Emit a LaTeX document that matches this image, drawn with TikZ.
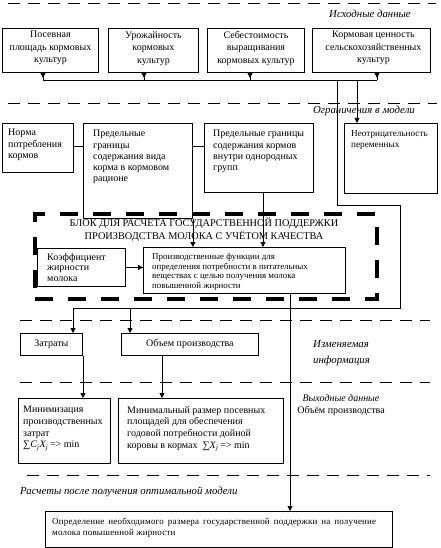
\documentclass[tikz,border=0pt]{standalone}
\usepackage{fontspec}
\setmainfont{Liberation Serif}
\usetikzlibrary{arrows.meta}
\begin{document}
\begin{tikzpicture}[x=1pt,y=-1pt,
  box/.style={draw,line width=0.9pt,inner sep=0pt,anchor=north west},
  txt/.style={inner sep=0pt,anchor=north west,font=\fontsize{10}{11.3}\selectfont,align=left},
  ctxt/.style={inner sep=0pt,anchor=north,font=\fontsize{10}{12.5}\selectfont,align=center},
  lab/.style={inner sep=0pt,font=\fontsize{10.8}{16}\selectfont\itshape},
  sep/.style={line width=0.7pt,dash pattern=on 12pt off 8pt},
  blockframe/.style={draw,line width=4pt,dash pattern=on 18pt off 15pt,inner sep=0pt,anchor=north west},
  link/.style={line width=0.8pt},
  arr/.style={link,-{Triangle[length=5pt,width=5pt]}},
]
\useasboundingbox (0,0) rectangle (441,548);

% separators
\draw[sep] (8,3) -- (436,3);
\draw[sep] (8,103) -- (437,103);
\draw[sep] (20,320) -- (430,320);
\draw[sep] (20,382) -- (430,382);
\draw[sep] (27,475) -- (430,475);

% section labels
\node[lab] (l1) at (370,14) {Исходные данные};
\node[lab] (l2) at (364,111) {Ограничения в модели};
\node[lab,anchor=west,align=left] (l3) at (313,353) {Изменяемая\\информация};
\node[inner sep=0pt,align=center,font=\fontsize{10}{12}\selectfont] (l4) at (341,405) {\textit{Выходные данные}\\Объём производства};
\node[lab,anchor=west] (l5) at (20,492) {Расчеты после получения оптимальной модели};

% row 1
\node[box,minimum width=96,minimum height=44] (b1) at (2,28) {};
\node[box,minimum width=90,minimum height=44] (b2) at (108,28) {};
\node[box,minimum width=97,minimum height=44] (b3) at (207,28) {};
\node[box,minimum width=118,minimum height=44] (b4) at (312,28) {};
\node[ctxt] (t1) at ([yshift=-3pt]b1.north) {Посевная\\площадь кормовых\\культур};
\node[ctxt] (t2) at ([yshift=-3pt]b2.north) {Урожайность\\кормовых\\культур};
\node[ctxt] (t3) at ([yshift=-3pt]b3.north) {Себестоимость\\выращивания\\кормовых культур};
\node[ctxt] (t4) at ([yshift=-3pt,xshift=2pt]b4.north) {Кормовая ценность\\сельскохозяйственных\\культур};

% row 2
\node[box,minimum width=71,minimum height=49] (b5) at (2,123) {};
\node[box,minimum width=109,minimum height=95] (b6) at (83,123) {};
\node[box,minimum width=109,minimum height=69] (b7) at (204,123) {};
\node[box,minimum width=93,minimum height=70] (b8) at (344,123) {};
\node[txt] (t5) at ([xshift=6pt,yshift=-6pt]b5.north west) {Норма\\потребления\\кормов};
\node[txt] (t6) at ([xshift=10pt,yshift=-7pt]b6.north west) {Предельные\\границы\\содержания вида\\корма в кормовом\\рационе};
\node[txt] (t7) at ([xshift=9pt,yshift=-7pt]b7.north west) {Предельные границы\\содержания кормов\\внутри однородных\\групп};
\node[txt,font=\fontsize{9.2}{11.3}\selectfont] (t8) at ([xshift=7pt,yshift=-7pt]b8.north west) {Неотрицательность\\переменных};

% block
\node[blockframe,minimum width=342,minimum height=85] (blk) at (33,212) {};
\node[inner sep=0pt,align=center,font=\fontsize{10.3}{13}\selectfont] (ttl) at (204,230) {БЛОК ДЛЯ РАСЧЕТА ГОСУДАРСТВЕННОЙ ПОДДЕРЖКИ\\ПРОИЗВОДСТВА МОЛОКА С УЧЁТОМ КАЧЕСТВА};
\node[box,minimum width=88,minimum height=38,fill=white] (koef) at (37,248) {};
\node[box,minimum width=202,minimum height=46,fill=white] (prod) at (143,247) {};
\node[txt,font=\fontsize{10}{10.5}\selectfont] (t9) at ([xshift=10pt,yshift=-5pt]koef.north west) {Коэффициент\\жирности\\молока};
\node[txt,font=\fontsize{8.9}{9.8}\selectfont] (t10) at ([xshift=9pt,yshift=-6pt]prod.north west) {Производственные функции для\\определения потребности в питательных\\веществах с целью получения молока\\повышенной жирности};

% row 3
\node[box,minimum width=62,minimum height=22] (zat) at (20,333) {};
\node[box,minimum width=137,minimum height=22] (obj) at (121,333) {};
\node[inner sep=0pt,font=\fontsize{10}{11}\selectfont] (t11) at (zat.center) {Затраты};
\node[inner sep=0pt,font=\fontsize{10}{11}\selectfont] (t12) at (obj.center) {Объем производства};

% row 4
\node[box,minimum width=92,minimum height=65] (min1) at (18,398) {};
\node[box,minimum width=165,minimum height=65] (min2) at (118,398) {};
\node[txt,font=\fontsize{10}{11.7}\selectfont] (t13) at ([xshift=5pt,yshift=-8pt]min1.north west) {Минимизация\\производственных\\затрат\\ ∑\textit{C}\textsubscript{\textit{j}}\textit{X}\textsubscript{\textit{j}}\,=> min};
\node[txt,font=\fontsize{10}{11.7}\selectfont] (t14) at ([xshift=9pt,yshift=-8pt]min2.north west) {Минимальный размер посевных\\площадей для обеспечения\\годовой потребности дойной\\коровы в кормах \ ∑\textit{X}\textsubscript{\textit{j}}\,=> min};

% final
\node[box,minimum width=347,minimum height=36] (fin) at (45,511) {};
\node[txt,font=\fontsize{9}{11}\selectfont\addfontfeatures{LetterSpace=2}] (t15) at ([xshift=7pt,yshift=-7pt]fin.north west) {\makebox[324pt][s]{Определение необходимого размера государственной поддержки на получение}\\молока повышенной жирности};

% connectors row 1
\coordinate (c1) at (43,80);
\coordinate (c2) at (144,80);
\coordinate (c3) at (250,80);
\coordinate (c4) at (377,80);
\coordinate (c5) at (357,80);
\coordinate (c6) at (337,80);
\draw[link] (c1) -- (c4);
\foreach \b/\c in {b1/c1,b2/c2,b3/c3,b4/c4}{
  \draw[link] (\c |- \b.south) -- (\c);
  \draw[arr] (\c |- \b.south) -- ++(0,5);
}
\draw[arr] (c5) -- (c5 |- b8.north);

% loop
\coordinate (k1) at (400,205);
\coordinate (k2) at (400,308);
\coordinate (k3) at (73,308);
\coordinate (k4) at (130,308);
\draw[link] (c6) |- (k1) -- (k2) -- (k3);
\draw[arr] (k3) -- (k3 |- zat.north);
\draw[arr] (k4) -- (k4 |- obj.north);

% row 2 links
\coordinate (k7) at (0,146);
\draw[link] (b5.east |- k7) -- (b6.west |- k7);
\draw[link] (b6.east |- k7) -- (b7.west |- k7);
\draw[arr] (b6.south east) -- (b6.south east |- prod.north);
\coordinate (k6) at (263,0);
\draw[arr] (k6 |- b7.south) -- (k6 |- prod.north);
\draw[arr] (koef.east) -- (prod.west |- koef.east);

% down
\coordinate (k5) at (290,0);
\draw[arr] (k5 |- prod.south) -- (k5 |- fin.north);
\coordinate (k8) at (83,0);
\coordinate (k9) at (162,0);
\draw[arr] (k8 |- zat.south) -- (k8 |- min1.north);
\draw[arr] (k9 |- obj.south) -- (k9 |- min2.north);
\end{tikzpicture}
\end{document}
